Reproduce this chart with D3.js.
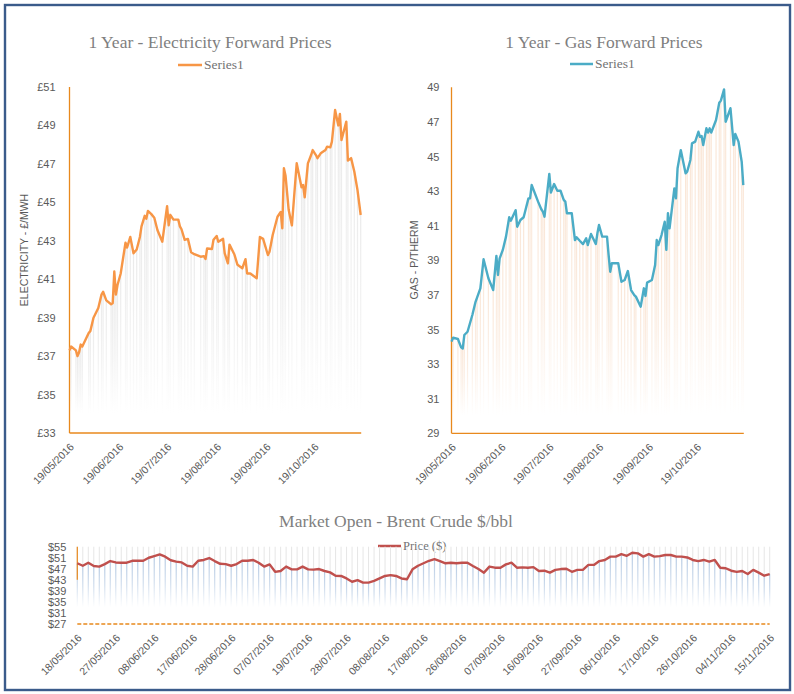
<!DOCTYPE html>
<html><head><meta charset="utf-8">
<script src="https://cdn.jsdelivr.net/npm/d3@7"></script>
<style>body{margin:0;background:#fff;} svg{display:block;}</style>
</head><body><svg id="c" width="794" height="694"></svg>
<script>
// ---------- DATA ----------
const elecDates = ["2016-05-19","2016-05-20","2016-05-23","2016-05-24","2016-05-25","2016-05-26","2016-05-27","2016-05-31","2016-06-01","2016-06-03","2016-06-06","2016-06-08","2016-06-09","2016-06-11","2016-06-14","2016-06-15","2016-06-16","2016-06-17","2016-06-18","2016-06-20","2016-06-23","2016-06-24","2016-06-26","2016-06-28","2016-06-30","2016-07-02","2016-07-03","2016-07-05","2016-07-06","2016-07-07","2016-07-09","2016-07-11","2016-07-13","2016-07-16","2016-07-19","2016-07-20","2016-07-21","2016-07-23","2016-07-26","2016-07-27","2016-07-28","2016-07-30","2016-08-01","2016-08-03","2016-08-05","2016-08-09","2016-08-11","2016-08-12","2016-08-13","2016-08-16","2016-08-17","2016-08-19","2016-08-20","2016-08-23","2016-08-24","2016-08-26","2016-08-27","2016-08-30","2016-09-01","2016-09-04","2016-09-06","2016-09-07","2016-09-09","2016-09-13","2016-09-15","2016-09-17","2016-09-20","2016-09-21","2016-09-23","2016-09-26","2016-09-28","2016-09-29","2016-09-30","2016-10-01","2016-10-03","2016-10-05","2016-10-08","2016-10-11","2016-10-12","2016-10-13","2016-10-15","2016-10-17","2016-10-18","2016-10-20","2016-10-21","2016-10-23","2016-10-26","2016-10-27","2016-10-29","2016-10-30","2016-11-01","2016-11-03","2016-11-04","2016-11-05","2016-11-08","2016-11-09","2016-11-11","2016-11-13","2016-11-15","2016-11-17"];
const elecValues = [37.3,37.5,37.3,37.0,37.2,37.6,37.5,38.2,38.3,39.0,39.5,40.2,40.35,39.9,39.7,39.75,41.4,40.2,40.7,41.3,42.9,42.65,43.2,42.35,42.55,43.2,43.75,44.3,44.15,44.55,44.4,44.2,43.55,42.95,44.8,43.8,44.35,44.1,44.1,43.75,43.6,43.05,43.1,42.4,42.3,42.17,42.2,42.05,42.6,42.57,43.05,43.25,42.95,43.1,42.35,41.83,42.8,42.3,41.75,41.57,42.04,41.3,41.3,41.05,43.2,43.1,42.26,42.43,43.3,44.25,44.5,43.65,46.77,46.4,44.6,43.8,47.03,45.78,45.9,45.26,47.03,47.46,47.72,47.46,47.3,47.55,47.72,47.9,47.86,48.16,49.8,49.0,49.6,48.24,49.2,47.17,47.3,46.6,45.64,44.34];
const elecYTicks = [33,35,37,39,41,43,45,47,49,51];

const gasDates = ["2016-05-19","2016-05-20","2016-05-23","2016-05-25","2016-05-26","2016-05-27","2016-05-29","2016-06-01","2016-06-03","2016-06-04","2016-06-06","2016-06-08","2016-06-11","2016-06-14","2016-06-16","2016-06-17","2016-06-18","2016-06-20","2016-06-22","2016-06-24","2016-06-25","2016-06-28","2016-06-29","2016-07-01","2016-07-03","2016-07-06","2016-07-07","2016-07-08","2016-07-12","2016-07-14","2016-07-15","2016-07-16","2016-07-19","2016-07-20","2016-07-22","2016-07-24","2016-07-26","2016-07-28","2016-07-29","2016-07-30","2016-08-02","2016-08-04","2016-08-05","2016-08-07","2016-08-09","2016-08-11","2016-08-12","2016-08-14","2016-08-17","2016-08-18","2016-08-19","2016-08-21","2016-08-24","2016-08-25","2016-08-26","2016-08-27","2016-08-31","2016-09-02","2016-09-04","2016-09-06","2016-09-08","2016-09-10","2016-09-11","2016-09-14","2016-09-16","2016-09-17","2016-09-18","2016-09-21","2016-09-23","2016-09-24","2016-09-25","2016-09-27","2016-09-29","2016-09-30","2016-10-01","2016-10-02","2016-10-05","2016-10-06","2016-10-07","2016-10-09","2016-10-12","2016-10-13","2016-10-15","2016-10-16","2016-10-18","2016-10-20","2016-10-21","2016-10-22","2016-10-23","2016-10-25","2016-10-26","2016-10-27","2016-10-28","2016-10-31","2016-11-02","2016-11-03","2016-11-05","2016-11-06","2016-11-09","2016-11-11","2016-11-12","2016-11-14","2016-11-16","2016-11-17"];
const gasValues = [34.3,34.53,34.45,33.97,33.9,34.68,34.87,35.84,36.6,36.86,37.38,39.06,37.96,37.28,39.25,38.15,39.1,39.6,40.37,41.49,41.29,41.9,40.94,41.33,41.49,42.58,42.58,43.35,42.39,41.95,41.81,41.52,43.99,42.91,43.41,43.02,43.02,42.49,42.39,41.72,41.72,40.17,40.33,40.13,39.94,40.27,39.88,40.52,39.94,40.56,41.04,40.37,40.37,39.3,38.34,38.83,38.83,37.76,37.86,38.38,37.28,36.99,36.9,36.32,37.38,36.94,37.71,37.86,38.73,40.17,39.88,40.46,41.23,39.6,41.72,40.85,43.16,42.58,44.32,45.37,44.03,44.12,44.8,45.76,45.86,46.43,46.14,46.18,45.66,46.63,46.38,46.63,46.38,47.11,48.11,48.23,48.88,47.01,47.79,45.66,46.3,45.86,44.7,43.35];
const gasYTicks = [29,31,33,35,37,39,41,43,45,47,49];

const monthTickDates = ["2016-05-19","2016-06-19","2016-07-19","2016-08-19","2016-09-19","2016-10-19"];

const brentValues = [49.0,48.1,49.2,48.0,47.8,48.7,49.8,49.3,49.2,49.2,49.9,49.9,49.9,51.0,51.6,52.2,51.4,50.1,49.6,49.3,48.1,47.8,49.9,50.2,50.9,49.8,48.8,48.7,48.1,48.7,49.9,49.9,50.2,49.2,47.8,48.6,45.9,46.2,47.8,46.8,46.8,47.8,46.8,46.7,46.9,46.2,45.7,44.5,44.4,43.5,42.3,42.9,42.0,42.0,42.6,43.5,44.4,44.7,44.4,43.5,43.2,46.8,48.1,49.0,49.9,50.5,49.8,49.0,49.2,49.0,49.2,49.2,48.0,46.9,45.6,47.8,47.4,47.4,48.6,49.2,47.4,47.5,47.4,47.6,46.2,46.3,45.6,46.6,46.9,47.0,45.9,46.6,46.6,48.4,48.4,49.8,50.2,51.4,51.4,52.3,51.7,52.8,52.6,51.4,52.3,51.4,51.6,52.0,52.0,51.4,51.4,51.1,50.2,49.8,50.2,49.6,50.2,47.4,47.2,46.3,45.9,46.2,45.1,46.6,45.6,44.5,45.1];
const brentTickLabels = ["18/05/2016","27/05/2016","08/06/2016","17/06/2016","28/06/2016","07/07/2016","19/07/2016","28/07/2016","08/08/2016","17/08/2016","26/08/2016","07/09/2016","16/09/2016","27/09/2016","06/10/2016","17/10/2016","26/10/2016","04/11/2016","15/11/2016"];
const brentYTicks = [27,31,35,39,43,47,51,55];

// ---------- DRAWING ----------
const svg = d3.select("#c");
const parse = d3.timeParse("%Y-%m-%d");
const SANS = "'Liberation Sans', Arial, sans-serif";
const SERIF = "'Liberation Serif', 'Times New Roman', serif";
const AXIS_ORANGE = "#e8891d";
const TXT = "#595959";

svg.append("rect").attr("width",794).attr("height",694).attr("fill","#fff");

const defs = svg.append("defs");
function grad(id, color, o1){
  const g = defs.append("linearGradient").attr("id",id).attr("x1",0).attr("y1",0).attr("x2",0).attr("y2",1);
  g.append("stop").attr("offset",0).attr("stop-color",color).attr("stop-opacity",o1);
  g.append("stop").attr("offset",0.5).attr("stop-color",color).attr("stop-opacity",o1*0.6);
  g.append("stop").attr("offset",1).attr("stop-color",color).attr("stop-opacity",0);
}
grad("gElec","#d9d9d9",0.55);
grad("gGas","#f4cdae",0.5);
grad("gBrent","#a9c1de",0.85);

function title(x,y,text){
  svg.append("text").attr("x",x).attr("y",y).attr("text-anchor","middle")
    .attr("font-family",SERIF).attr("font-size",17.5).attr("fill","#7f7f7f").text(text);
}
function legend(x1,x2,y,color,text,size){
  svg.append("line").attr("x1",x1).attr("x2",x2).attr("y1",y).attr("y2",y)
    .attr("stroke",color).attr("stroke-width",2.5);
  svg.append("text").attr("x",x2+2).attr("y",y+4).attr("font-family",SERIF)
    .attr("font-size",size).attr("fill","#737373").text(text);
}

function timeChart(cfg){
  const x = d3.scaleTime().domain([parse("2016-05-19"), parse("2016-11-17")]).range([cfg.x0, cfg.x1]);
  const y = d3.scaleLinear().domain(cfg.yDomain).range([cfg.yBottom, cfg.yTop]);
  const data = cfg.dates.map((d,i)=>({date:parse(d), v:cfg.values[i]}));
  const g = svg.append("g");
  g.selectAll("rect.drop").data(data).join("rect").attr("class","drop")
    .attr("x", d=>x(d.date)-0.6).attr("width",1.2)
    .attr("y", d=>y(d.v)).attr("height", d=>Math.max(0, y(cfg.dropTo)-y(d.v)))
    .attr("fill", `url(#${cfg.grad})`);
  const ya = g.append("g").attr("transform",`translate(${cfg.x0},0)`)
    .call(d3.axisLeft(y).tickValues(cfg.yTicks).tickSize(0).tickPadding(cfg.yPad).tickFormat(cfg.yFmt));
  ya.select(".domain").remove();
  ya.selectAll("text").attr("font-family",SANS).attr("font-size",11).attr("fill",TXT);
  const xa = g.append("g").attr("transform",`translate(0,${cfg.yBottom})`)
    .call(d3.axisBottom(x).tickValues(monthTickDates.map(parse)).tickSize(0).tickFormat(d3.timeFormat("%d/%m/%Y")));
  xa.select(".domain").remove();
  xa.selectAll("text").attr("font-family",SANS).attr("font-size",10.5).attr("fill",TXT)
    .attr("text-anchor","end").attr("y",0).attr("dy","0.35em")
    .attr("transform","translate(2,12) rotate(-45)");
  g.append("line").attr("x1",cfg.x0).attr("x2",cfg.x0).attr("y1",cfg.yTop).attr("y2",cfg.yBottom)
    .attr("stroke",AXIS_ORANGE).attr("stroke-width",1.3);
  g.append("line").attr("x1",cfg.x0).attr("x2",cfg.x1+0.5).attr("y1",cfg.yBottom).attr("y2",cfg.yBottom)
    .attr("stroke",AXIS_ORANGE).attr("stroke-width",1.3);
  g.append("path").datum(data).attr("fill","none").attr("stroke",cfg.color).attr("stroke-width",2.4)
    .attr("stroke-linejoin","round")
    .attr("d", d3.line().x(d=>x(d.date)).y(d=>y(d.v)));
  svg.append("text").attr("transform",`translate(${cfg.titleX},${cfg.titleY}) rotate(-90)`)
    .attr("text-anchor","middle").attr("font-family",SANS).attr("font-size",10.5).attr("fill",TXT)
    .text(cfg.yTitle);
}

// frame
svg.append("rect").attr("x",5).attr("y",5).attr("width",785).attr("height",685)
  .attr("fill","none").attr("stroke","#3b5b8b").attr("stroke-width",2.4);

// Electricity
title(210,48,"1 Year - Electricity Forward Prices");
legend(178,202,65,"#f79646","Series1",13.5);
timeChart({x0:69.5,x1:360.7,yTop:87,yBottom:433,yDomain:[33,51],dates:elecDates,values:elecValues,
  yTicks:elecYTicks,yFmt:d=>"£"+d,yPad:14,color:"#f79646",grad:"gElec",dropTo:34,
  yTitle:"ELECTRICITY - £/MWH",titleX:28,titleY:250});

// Gas
title(604,48,"1 Year -  Gas Forward Prices");
legend(570,593,64,"#4bacc6","Series1",13.5);
timeChart({x0:451.5,x1:743.3,yTop:87.3,yBottom:433.3,yDomain:[29,49],dates:gasDates,values:gasValues,
  yTicks:gasYTicks,yFmt:d=>d,yPad:12,color:"#4bacc6",grad:"gGas",dropTo:30,
  yTitle:"GAS - P/THERM",titleX:418,titleY:260});

// Brent
title(396,527,"Market Open - Brent Crude $/bbl");
legend(378,401,546,"#c0504d","Price ($)",12.5);
(function(){
  const x = d3.scaleLinear().domain([0,brentValues.length-1]).range([77.3,769.7]);
  const y = d3.scaleLinear().domain([27,55]).range([624,546.7]);
  const g = svg.append("g");
  const idx = brentValues.map((v,i)=>i);
  g.selectAll("rect.top").data(idx).join("rect")
    .attr("x",i=>x(i)-0.5).attr("width",1).attr("y",y(55)).attr("height",i=>y(brentValues[i])-y(55))
    .attr("fill","#e6e6e6");
  g.selectAll("rect.bot").data(idx).join("rect")
    .attr("x",i=>x(i)-0.6).attr("width",1.2).attr("y",i=>y(brentValues[i])).attr("height",i=>y(33)-y(brentValues[i]))
    .attr("fill","url(#gBrent)");
  const ya = g.append("g").attr("transform","translate(77.3,0)")
    .call(d3.axisLeft(y).tickValues(brentYTicks).tickSize(0).tickPadding(11).tickFormat(d=>"$"+d));
  ya.select(".domain").remove();
  ya.selectAll("text").attr("font-family",SANS).attr("font-size",11).attr("fill",TXT);
  const xa = g.append("g").attr("transform","translate(0,624)")
    .call(d3.axisBottom(x).tickValues(brentTickLabels.map((d,i)=>i*7)).tickSize(0).tickFormat(i=>brentTickLabels[i/7]));
  xa.select(".domain").remove();
  xa.selectAll("text").attr("font-family",SANS).attr("font-size",10.5).attr("fill",TXT)
    .attr("text-anchor","end").attr("y",0).attr("dy","0.35em")
    .attr("transform","translate(2,12) rotate(-45)");
  g.append("line").attr("x1",77.3).attr("x2",77.3).attr("y1",y(55)).attr("y2",y(43))
    .attr("stroke",AXIS_ORANGE).attr("stroke-width",1.2);
  g.append("line").attr("x1",77.3).attr("x2",769.7).attr("y1",624).attr("y2",624)
    .attr("stroke",AXIS_ORANGE).attr("stroke-width",1.3).attr("stroke-dasharray","4,2");
  g.append("path").datum(brentValues).attr("fill","none").attr("stroke","#c0504d").attr("stroke-width",2.4)
    .attr("stroke-linejoin","round")
    .attr("d", d3.line().x((d,i)=>x(i)).y(d=>y(d)));
})();
</script>
</body></html>
